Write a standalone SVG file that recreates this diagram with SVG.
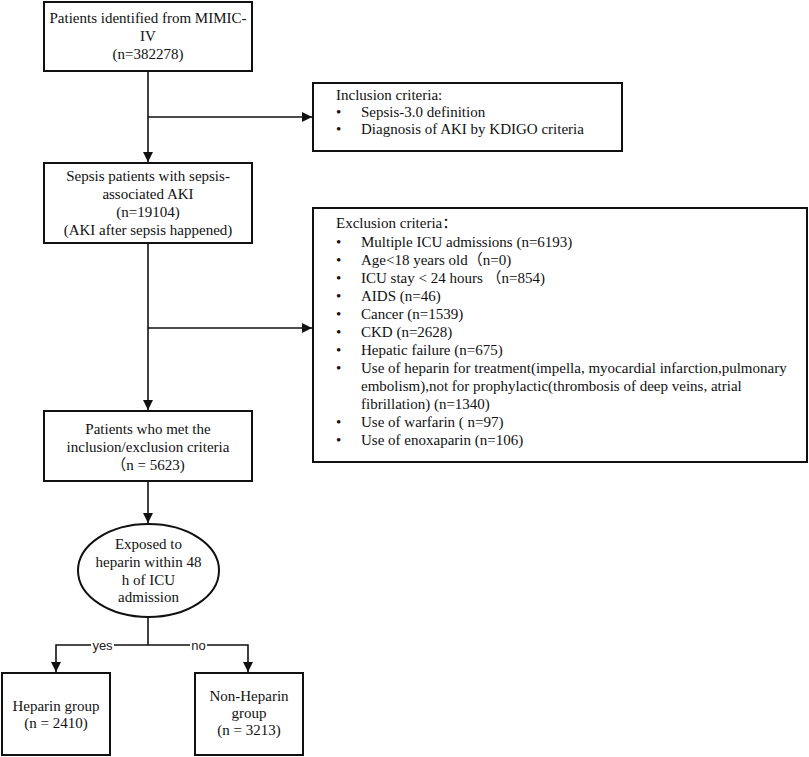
<svg xmlns="http://www.w3.org/2000/svg" width="809" height="757" viewBox="0 0 809 757">
<style>
  .box { fill: #fff; stroke: #111; stroke-width: 2; }
  .t { font-family: "Liberation Serif", "Noto Sans CJK SC", serif; font-size: 15px; fill: #111; }
  .c { text-anchor: middle; }
  .lbl { font-family: "Liberation Sans", Arial, sans-serif; font-size: 13px; fill: #222; text-anchor: middle; }
  .ln { fill: none; stroke: #111; stroke-width: 1.6; }
</style>
<defs>
  <marker id="arr" viewBox="0 0 10 10" refX="10" refY="5" markerWidth="10" markerHeight="10" markerUnits="userSpaceOnUse" orient="auto">
    <path d="M0,0 L10,5 L0,10 Z" fill="#111"/>
  </marker>
</defs>
<rect width="809" height="757" fill="#fff"/>

<g id="connectors">
  <line class="ln" x1="148" y1="71" x2="148" y2="162" marker-end="url(#arr)"/>
  <line class="ln" x1="148" y1="117" x2="312" y2="117" marker-end="url(#arr)"/>
  <line class="ln" x1="148" y1="243" x2="148" y2="410" marker-end="url(#arr)"/>
  <line class="ln" x1="148" y1="328" x2="312" y2="328" marker-end="url(#arr)"/>
  <line class="ln" x1="148" y1="481" x2="148" y2="523" marker-end="url(#arr)"/>
  <line class="ln" x1="148" y1="617" x2="148" y2="645"/>
  <polyline class="ln" points="148,645 56,645 56,672" marker-end="url(#arr)"/>
  <polyline class="ln" points="148,645 248,645 248,672" marker-end="url(#arr)"/>
  <rect x="91" y="637" width="23" height="16" fill="#fff"/>
  <text class="lbl" x="102.5" y="649.5">yes</text>
  <rect x="190" y="637" width="17" height="16" fill="#fff"/>
  <text class="lbl" x="198.5" y="649.5">no</text>
</g>

<g id="node-mimic">
  <rect class="box" x="44" y="2" width="208" height="69"/>
  <text class="t c" x="148" y="23">Patients identified from MIMIC-</text>
  <text class="t c" x="148" y="41">IV</text>
  <text class="t c" x="148" y="59">(n=382278)</text>
</g>

<g id="node-inclusion">
  <rect class="box" x="313" y="83" width="309" height="68"/>
  <text class="t" x="336" y="100">Inclusion criteria:</text>
  <text class="t" x="336" y="117">•</text>
  <text class="t" x="361" y="117">Sepsis-3.0 definition</text>
  <text class="t" x="336" y="134">•</text>
  <text class="t" x="361" y="134">Diagnosis of AKI by KDIGO criteria</text>
</g>

<g id="node-sepsis-aki">
  <rect class="box" x="44" y="163" width="208" height="80"/>
  <text class="t c" x="148" y="181">Sepsis patients with sepsis-</text>
  <text class="t c" x="148" y="199">associated AKI</text>
  <text class="t c" x="148" y="217">(n=19104)</text>
  <text class="t c" x="148" y="235">(AKI after sepsis happened)</text>
</g>

<g id="node-exclusion">
  <rect class="box" x="313" y="208" width="494" height="254"/>
  <text class="t" x="336" y="228">Exclusion criteria：</text>
  <g class="t">
    <text x="336" y="247">•</text><text x="361" y="247">Multiple ICU admissions (n=6193)</text>
    <text x="336" y="265">•</text><text x="361" y="265">Age&lt;18 years old（n=0)</text>
    <text x="336" y="283">•</text><text x="361" y="283">ICU stay &lt; 24 hours （n=854)</text>
    <text x="336" y="301">•</text><text x="361" y="301">AIDS (n=46)</text>
    <text x="336" y="319">•</text><text x="361" y="319">Cancer (n=1539)</text>
    <text x="336" y="337">•</text><text x="361" y="337">CKD (n=2628)</text>
    <text x="336" y="355">•</text><text x="361" y="355">Hepatic failure (n=675)</text>
    <text x="336" y="373">•</text><text x="361" y="373">Use of heparin for treatment(impella, myocardial infarction,pulmonary</text>
    <text x="361" y="391">embolism),not for prophylactic(thrombosis of deep veins, atrial</text>
    <text x="361" y="409">fibrillation) (n=1340)</text>
    <text x="336" y="427">•</text><text x="361" y="427">Use of warfarin ( n=97)</text>
    <text x="336" y="445">•</text><text x="361" y="445">Use of enoxaparin (n=106)</text>
  </g>
</g>

<g id="node-met-criteria">
  <rect class="box" x="44" y="411" width="208" height="70"/>
  <text class="t c" x="148" y="434">Patients who met the</text>
  <text class="t c" x="148" y="452">inclusion/exclusion criteria</text>
  <text class="t c" x="148" y="470">（n = 5623)</text>
</g>

<g id="node-exposed">
  <ellipse class="box" cx="148.5" cy="570.5" rx="70.5" ry="46.5"/>
  <text class="t c" x="148.5" y="549">Exposed to</text>
  <text class="t c" x="148.5" y="567">heparin within 48</text>
  <text class="t c" x="148.5" y="585">h of ICU</text>
  <text class="t c" x="148.5" y="602">admission</text>
</g>

<g id="node-heparin">
  <rect class="box" x="2" y="673" width="108" height="82"/>
  <text class="t c" x="56" y="711">Heparin group</text>
  <text class="t c" x="56" y="728">(n = 2410)</text>
</g>

<g id="node-non-heparin">
  <rect class="box" x="195" y="673" width="108" height="82"/>
  <text class="t c" x="249" y="701">Non-Heparin</text>
  <text class="t c" x="249" y="718">group</text>
  <text class="t c" x="249" y="735">(n = 3213)</text>
</g>
</svg>
